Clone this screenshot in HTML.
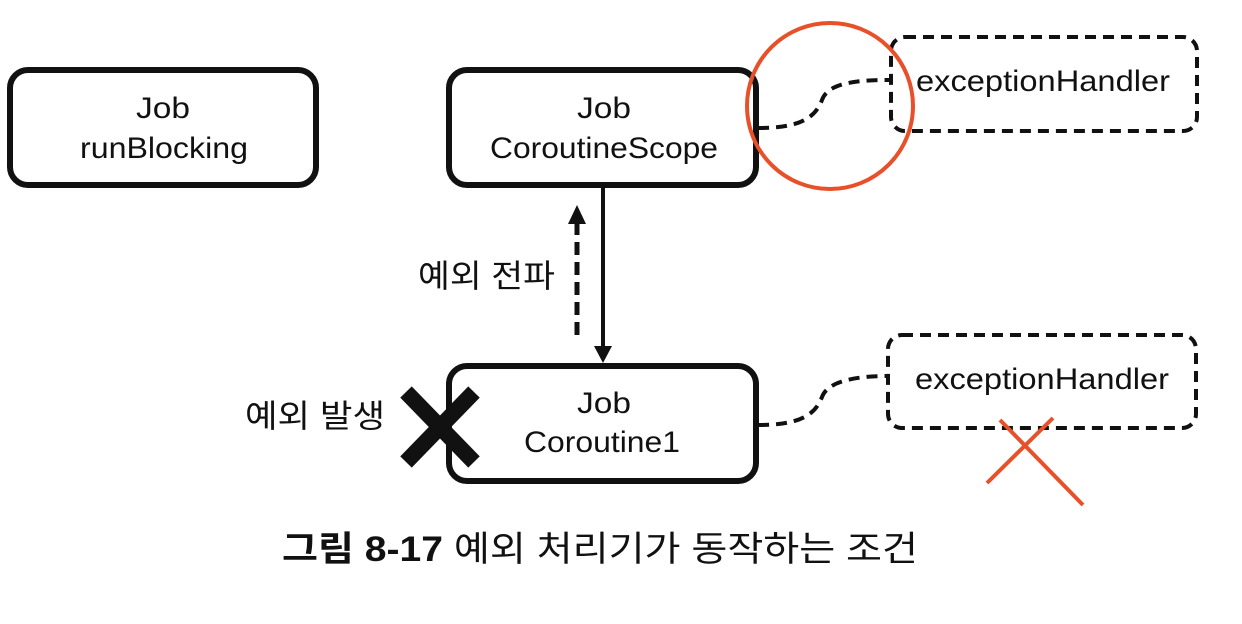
<!DOCTYPE html>
<html><head><meta charset="utf-8"><style>
html,body{margin:0;padding:0;background:#fff;}
svg{display:block}
text{font-family:"Liberation Sans","Noto Sans CJK KR",sans-serif;fill:#111;}
</style></head><body>
<svg width="1242" height="624" viewBox="0 0 1242 624" xmlns="http://www.w3.org/2000/svg">
<g fill="none" stroke="#111" stroke-width="6">
<rect x="10" y="70" width="306" height="115" rx="18"/>
<rect x="449" y="70" width="307" height="115" rx="18"/>
<rect x="449" y="366" width="307" height="115" rx="18"/>
</g>
<g fill="none" stroke="#111" stroke-width="4" stroke-dasharray="11,7">
<rect x="891" y="37" width="306" height="94" rx="14"/>
<rect x="888" y="335" width="308" height="93" rx="14"/>
<path d="M758,128 C800,128 815,118 822,100 C828,82 860,80 890,80"/>
<path d="M758,425 C800,425 815,415 822,397 C828,380 860,376 888,376"/>
</g>
<g font-size="30">
<text x="136" y="118" textLength="54" lengthAdjust="spacingAndGlyphs">Job</text>
<text x="80" y="158" textLength="168" lengthAdjust="spacingAndGlyphs">runBlocking</text>
<text x="577" y="118" textLength="54" lengthAdjust="spacingAndGlyphs">Job</text>
<text x="490" y="158" textLength="228" lengthAdjust="spacingAndGlyphs">CoroutineScope</text>
<text x="577" y="413" textLength="54" lengthAdjust="spacingAndGlyphs">Job</text>
<text x="524" y="452" textLength="156" lengthAdjust="spacingAndGlyphs">Coroutine1</text>
<text x="916" y="91" textLength="254" lengthAdjust="spacingAndGlyphs">exceptionHandler</text>
<text x="915" y="389" textLength="254" lengthAdjust="spacingAndGlyphs">exceptionHandler</text>
</g>
<circle cx="830" cy="106" r="83" fill="none" stroke="#e8502a" stroke-width="4"/>
<line x1="603" y1="186" x2="603" y2="350" stroke="#111" stroke-width="4"/>
<path d="M594,346 L612,346 L603,363 z" fill="#111"/>
<line x1="577" y1="335" x2="577" y2="222" stroke="#111" stroke-width="5" stroke-dasharray="13,7"/>
<path d="M568,224 L586,224 L577,205 z" fill="#111"/>
<text x="418" y="287" font-size="32" textLength="137" lengthAdjust="spacingAndGlyphs">예외 전파</text>
<text x="245" y="427" font-size="32" textLength="140" lengthAdjust="spacingAndGlyphs">예외 발생</text>
<g stroke="#111" stroke-width="16">
<line x1="406" y1="392" x2="474" y2="462"/>
<line x1="474" y1="392" x2="406" y2="462"/>
</g>
<g stroke="#e8502a" stroke-width="4">
<line x1="1000" y1="420" x2="1083" y2="505"/>
<line x1="1053" y1="418" x2="987" y2="483"/>
</g>
<text x="282" y="561" font-size="35" textLength="636" lengthAdjust="spacingAndGlyphs"><tspan font-weight="bold">그림 8-17</tspan>  예외 처리기가 동작하는 조건</text>
</svg>
</body></html>
